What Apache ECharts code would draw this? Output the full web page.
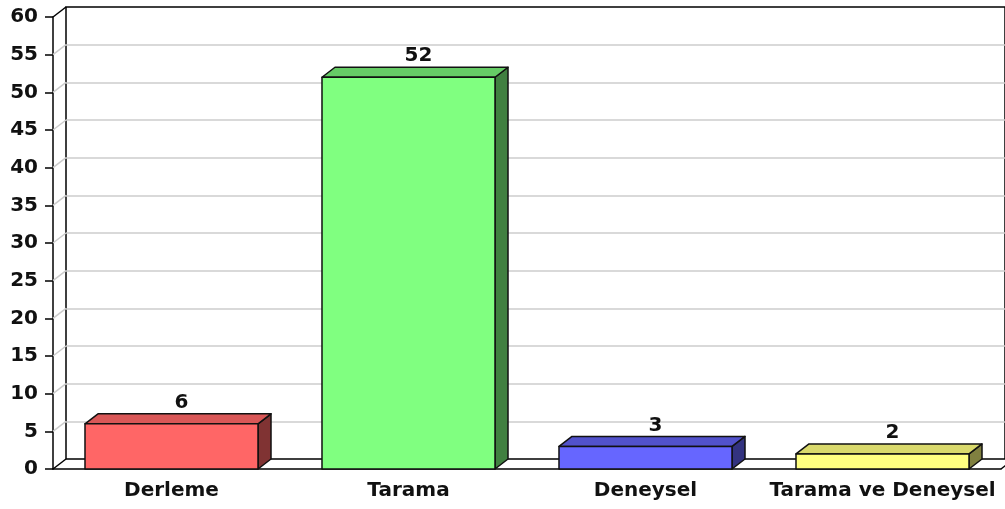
<!DOCTYPE html>
<html>
<head>
<meta charset="utf-8">
<script src="https://cdn.jsdelivr.net/npm/echarts@6/dist/echarts.min.js"></script>
<style>
  html, body { margin: 0; padding: 0; background: #fff; }
  #chart { width: 1005px; height: 509px; }
</style>
</head>
<body>
<div id="chart"></div>
<script>
const categories = ['Derleme', 'Tarama', 'Deneysel', 'Tarama ve Deneysel'];
const counts = [6, 52, 3, 2];
const yTicks = [0, 5, 10, 15, 20, 25, 30, 35, 40, 45, 50, 55, 60];

// front / top / side colours of each bar
const frontColors = ['#ff6666', '#80ff80', '#6666ff', '#ffff80'];
const topColors = ['#d95757', '#66cc66', '#5252cc', '#d9d96c'];
const sideColors = ['#803333', '#408040', '#333380', '#808040'];

const DX = 13, DY = 10; // depth of the 3d look
const font = { fontFamily: 'DejaVu Sans', fontWeight: 'bold', fontSize: 20, color: '#111' };

const chart = echarts.init(document.getElementById('chart'));

const option = {
    backgroundColor: '#fff',
    animation: false,
    grid: [
        { left: 53, top: 17, right: 4, bottom: 40 },
        // back wall, shifted by the depth
        { left: 66, top: 7, right: -9, bottom: 50, show: true, borderColor: '#000', borderWidth: 1.5, backgroundColor: '#fff' }
    ],
    xAxis: [{
        type: 'category',
        gridIndex: 0,
        data: categories,
        axisLine: { lineStyle: { color: '#000', width: 1.5 } },
        axisTick: { alignWithLabel: true, length: 8, lineStyle: { color: '#000', width: 1.5 } },
        axisLabel: Object.assign({ margin: 12, interval: 0, hideOverlap: false }, font)
    }, {
        type: 'value',
        gridIndex: 1,
        show: false
    }],
    yAxis: [{
        type: 'value',
        gridIndex: 0,
        min: 0,
        max: 60,
        interval: 5,
        axisLine: { show: true, lineStyle: { color: '#000', width: 1.5 } },
        axisTick: { show: true, length: 8, lineStyle: { color: '#000', width: 1.5 } },
        axisLabel: Object.assign({ margin: 15 }, font),
        splitLine: { show: false }
    }, {
        type: 'value',
        gridIndex: 1,
        min: 0,
        max: 60,
        interval: 5,
        axisLine: { show: false },
        axisTick: { show: false },
        axisLabel: { show: false },
        splitLine: { show: true, showMinLine: false, showMaxLine: false, lineStyle: { color: '#cccccc', width: 1.5 } }
    }],
    series: [
        {
            // left wall diagonals at each tick
            type: 'custom',
            xAxisIndex: 0,
            yAxisIndex: 0,
            clip: false,
            silent: true,
            z: 1,
            data: yTicks.map(v => [0, v]),
            renderItem(params, api) {
                const v = api.value(1);
                const p = api.coord([0, v]);
                const x0 = params.coordSys.x;
                const edge = v === 0 || v === 60;
                const children = [{
                    type: 'line',
                    shape: { x1: x0, y1: p[1], x2: x0 + DX, y2: p[1] - DY },
                    style: { stroke: edge ? '#000' : '#cccccc', lineWidth: 1.5 }
                }];
                if (v === 0) {
                    const x1 = params.coordSys.x + params.coordSys.width;
                    children.push({
                        type: 'line',
                        shape: { x1: x1, y1: p[1], x2: x1 + DX, y2: p[1] - DY },
                        style: { stroke: '#000', lineWidth: 1.5 }
                    });
                }
                return { type: 'group', children: children };
            }
        },
        {
            type: 'custom',
            xAxisIndex: 0,
            yAxisIndex: 0,
            clip: false,
            z: 5,
            data: counts.map((c, i) => [i, c]),
            renderItem(params, api) {
                const i = params.dataIndex;
                const top = api.coord([api.value(0), api.value(1)]);
                const base = api.coord([api.value(0), 0]);
                const bw = api.size([1, 0])[0] * 0.73;
                const x0 = top[0] - bw / 2, x1 = top[0] + bw / 2;
                const yt = top[1], yb = base[1];
                const stroke = { stroke: '#111', lineWidth: 1.5, lineJoin: 'round' };
                return {
                    type: 'group',
                    children: [
                        {
                            type: 'polygon',
                            shape: { points: [[x1, yt], [x1 + DX, yt - DY], [x1 + DX, yb - DY], [x1, yb]] },
                            style: Object.assign({ fill: sideColors[i] }, stroke)
                        },
                        {
                            type: 'polygon',
                            shape: { points: [[x0, yt], [x0 + DX, yt - DY], [x1 + DX, yt - DY], [x1, yt]] },
                            style: Object.assign({ fill: topColors[i] }, stroke)
                        },
                        {
                            type: 'rect',
                            shape: { x: x0, y: yt, width: bw, height: yb - yt },
                            style: Object.assign({ fill: frontColors[i] }, stroke)
                        },
                        {
                            type: 'text',
                            x: top[0] + 10,
                            y: yt - DY - 1,
                            style: {
                                text: String(api.value(1)),
                                fill: '#111',
                                font: 'bold 20px "DejaVu Sans"',
                                textAlign: 'center',
                                textVerticalAlign: 'bottom'
                            }
                        }
                    ]
                };
            }
        }
    ]
};

chart.setOption(option);
</script>
</body>
</html>
